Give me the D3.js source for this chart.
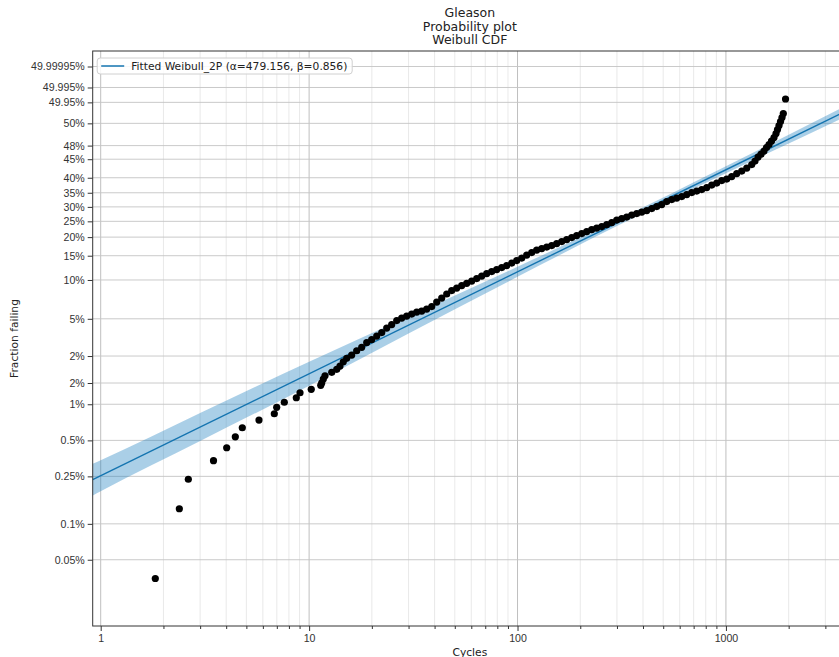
<!DOCTYPE html>
<html>
<head>
<meta charset="utf-8">
<script src="https://cdn.jsdelivr.net/npm/d3@7"></script>
<style>
  body { margin: 0; background: #fff; }
  svg { font-family: "DejaVu Sans", sans-serif; }
  .axis text { fill: #333; font-size: 10.6px; }
  .axis line { stroke: #333; }
  .title { font-size: 12.5px; fill: #222; text-anchor: middle; }
  .label { font-size: 10.7px; fill: #222; text-anchor: middle; }
</style>
</head>
<body>
<script>

// failure data (cycles, fraction failing)
var cycles = [1.828, 2.384, 2.633, 3.477, 4.023, 4.425, 4.780, 5.748, 6.808, 6.991,
    7.603, 8.680, 9.044, 10.24, 11.37, 11.50, 11.70, 11.92, 12.84, 13.57,
    14.07, 14.59, 15.15, 16.01, 16.92, 17.88, 18.90, 19.97, 21.11, 22.31,
    23.57, 24.91, 26.33, 27.82, 29.40, 31.07, 32.84, 34.70, 36.67, 38.76,
    40.96, 43.28, 45.74, 48.34, 51.09, 53.99, 57.05, 60.29, 63.72, 67.34,
    71.16, 75.20, 79.47, 83.99, 88.76, 93.80, 99.13, 104.8, 110.7, 117.0,
    123.6, 130.7, 138.1, 145.9, 154.2, 163.0, 172.2, 182.0, 192.3, 203.3,
    214.8, 227.0, 239.9, 253.6, 268.0, 283.2, 299.3, 316.3, 334.2, 353.2,
    373.3, 394.5, 416.9, 440.6, 465.6, 492.0, 520.0, 549.5, 580.7, 613.7,
    648.6, 685.4, 724.3, 765.5, 809.0, 854.9, 903.5, 954.8, 1009, 1066,
    1127, 1191, 1259, 1330, 1379, 1426, 1474, 1523, 1566, 1610,
    1655, 1701, 1739, 1768, 1798, 1828, 1858, 1885, 1932];

var fractionFailing = [0.000696, 0.002677, 0.00473, 0.00676, 0.00868, 0.0107, 0.01275, 0.01478, 0.01668, 0.01885,
    0.02079, 0.02265, 0.02492, 0.02659, 0.0287, 0.03016, 0.03236, 0.03445, 0.03674, 0.03889,
    0.0414, 0.0449, 0.0479, 0.05096, 0.05525, 0.05889, 0.06442, 0.06814, 0.07272, 0.07761,
    0.08436, 0.09001, 0.09686, 0.1014, 0.1052, 0.1091, 0.1131, 0.1152, 0.1195, 0.1250,
    0.1355, 0.1456, 0.1564, 0.1663, 0.1738, 0.1816, 0.1887, 0.1963, 0.2050, 0.2140,
    0.2233, 0.2310, 0.2389, 0.2470, 0.2554, 0.2662, 0.2773, 0.2889, 0.3032, 0.3156,
    0.3283, 0.3361, 0.3441, 0.3521, 0.3631, 0.3744, 0.3858, 0.3975, 0.4094, 0.4215,
    0.4339, 0.4465, 0.4560, 0.4656, 0.4787, 0.4918, 0.5087, 0.5188, 0.5290, 0.5428,
    0.5532, 0.5637, 0.5742, 0.5883, 0.6025, 0.6166, 0.6380, 0.6522, 0.6628, 0.6734,
    0.6875, 0.7016, 0.7120, 0.7223, 0.7360, 0.7528, 0.7661, 0.7823, 0.7919, 0.8074,
    0.8255, 0.8399, 0.8565, 0.8747, 0.8917, 0.9094, 0.9215, 0.9326, 0.9442, 0.9530,
    0.9620, 0.9698, 0.9772, 0.9832, 0.9879, 0.9915, 0.9942, 0.9962, 0.99937];

// fitted Weibull_2P
var alpha = 479.156;
var beta = 0.856;

// confidence band half width (in ln(-ln(1-F)) units)
var bandCycles = [0.9, 1, 3, 10, 30, 100, 300, 1000, 4000];
var bandHalfWidth = [0.309, 0.300, 0.271, 0.232, 0.164, 0.097, 0.058, 0.068, 0.106];

// axis ticks
var xTickValues = [1, 10, 100, 1000];
var xMinorValues = [2, 3, 4, 5, 6, 7, 8, 9, 20, 30, 40, 50, 60, 70, 80, 90,
    200, 300, 400, 500, 600, 700, 800, 900, 2000, 3000];
var yTickValues = [0.001, 0.002, 0.005, 0.01, 0.02, 0.03, 0.05, 0.1, 0.2, 0.3, 0.4,
    0.5, 0.6, 0.7, 0.8, 0.9, 0.95, 0.99, 0.999, 0.9999, 0.999999];
var yTickLabels = ["0.05%", "0.1%", "0.25%", "0.5%", "1%", "2%", "2%", "5%", "10%", "15%", "20%",
    "25%", "30%", "35%", "40%", "45%", "48%", "50%", "49.95%", "49.995%", "49.99995%"];

var width = 839;
var height = 657;
var margin = {top: 51, bottom: 31, left: 92.7, right: -8};

function weib(f) {
    return Math.log(-Math.log1p(-f));
}
function fitW(t) {
    return beta * (Math.log(t) - Math.log(alpha));
}

var xScale = d3.scaleLog()
    .domain([0.9154, 3810])
    .range([margin.left, width - margin.right]);

var yScale = d3.scaleLinear()
    .domain([weib(0.000278), weib(0.999999992)])
    .range([height - margin.bottom, margin.top]);

var svg = d3.select("body")
    .append("svg")
    .attr("width", width)
    .attr("height", height);

svg.append("defs").append("clipPath")
    .attr("id", "plotclip")
    .append("rect")
    .attr("x", margin.left)
    .attr("y", margin.top)
    .attr("width", width - margin.right - margin.left)
    .attr("height", height - margin.bottom - margin.top);

var plot = svg.append("g").attr("clip-path", "url(#plotclip)");

// grid
plot.selectAll(".minorgrid")
    .data(xMinorValues)
    .enter()
    .append("line")
    .attr("x1", d => xScale(d))
    .attr("x2", d => xScale(d))
    .attr("y1", margin.top)
    .attr("y2", height - margin.bottom)
    .attr("stroke", "#e3e3e3")
    .attr("stroke-width", 0.8);

plot.selectAll(".majorgrid")
    .data(xTickValues)
    .enter()
    .append("line")
    .attr("x1", d => xScale(d))
    .attr("x2", d => xScale(d))
    .attr("y1", margin.top)
    .attr("y2", height - margin.bottom)
    .attr("stroke", "#b8b8b8")
    .attr("stroke-width", 0.9);

plot.selectAll(".hgrid")
    .data(yTickValues)
    .enter()
    .append("line")
    .attr("x1", margin.left)
    .attr("x2", width - margin.right)
    .attr("y1", d => yScale(weib(d)))
    .attr("y2", d => yScale(weib(d)))
    .attr("stroke", "#c4c4c4")
    .attr("stroke-width", 0.9);

// confidence band
var band = d3.area()
    .x(d => xScale(d[0]))
    .y0(d => yScale(fitW(d[0]) - d[1]))
    .y1(d => yScale(fitW(d[0]) + d[1]))
    .curve(d3.curveMonotoneX);

plot.append("path")
    .datum(bandCycles.map((c, i) => [c, bandHalfWidth[i]]))
    .attr("d", band)
    .attr("fill", "#1f82c0")
    .attr("fill-opacity", 0.38);

// fitted line
plot.append("line")
    .attr("x1", xScale(xScale.domain()[0]))
    .attr("y1", yScale(fitW(xScale.domain()[0])))
    .attr("x2", xScale(xScale.domain()[1]))
    .attr("y2", yScale(fitW(xScale.domain()[1])))
    .attr("stroke", "#1474b0")
    .attr("stroke-width", 1.4);

// failure points
plot.selectAll("circle")
    .data(cycles)
    .enter()
    .append("circle")
    .attr("cx", d => xScale(d))
    .attr("cy", (d, i) => yScale(weib(fractionFailing[i])))
    .attr("r", 3.6)
    .attr("fill", "#000");

// axes
var xAxis = d3.axisBottom(xScale)
    .tickValues(xTickValues)
    .tickFormat(d3.format("d"))
    .tickSize(5)
    .tickPadding(3);

var xMinor = d3.axisBottom(xScale)
    .tickValues(xMinorValues)
    .tickFormat("")
    .tickSize(3);

var yAxis = d3.axisLeft(yScale)
    .tickValues(yTickValues.map(weib))
    .tickFormat((d, i) => yTickLabels[i])
    .tickSize(5)
    .tickPadding(3);

svg.append("g")
    .attr("class", "axis")
    .attr("transform", "translate(0," + (height - margin.bottom) + ")")
    .call(xMinor)
    .select(".domain").remove();

svg.append("g")
    .attr("class", "axis")
    .attr("transform", "translate(0," + (height - margin.bottom) + ")")
    .call(xAxis)
    .select(".domain").remove();

svg.append("g")
    .attr("class", "axis")
    .attr("transform", "translate(" + margin.left + ",0)")
    .call(yAxis)
    .select(".domain").remove();

// spines
svg.append("rect")
    .attr("x", margin.left)
    .attr("y", margin.top)
    .attr("width", width - margin.right - margin.left)
    .attr("height", height - margin.bottom - margin.top)
    .attr("fill", "none")
    .attr("stroke", "#333")
    .attr("stroke-width", 1);

// legend
var legend = svg.append("g")
    .attr("transform", "translate(" + (margin.left + 4.5) + "," + (margin.top + 7) + ")");

legend.append("rect")
    .attr("width", 255)
    .attr("height", 16)
    .attr("rx", 3)
    .attr("fill", "#fff")
    .attr("fill-opacity", 0.85)
    .attr("stroke", "#d0d0d0");

legend.append("line")
    .attr("x1", 4)
    .attr("x2", 27)
    .attr("y1", 8)
    .attr("y2", 8)
    .attr("stroke", "#1474b0")
    .attr("stroke-width", 1.5);

legend.append("text")
    .attr("x", 34)
    .attr("y", 11.8)
    .attr("class", "label")
    .style("text-anchor", "start")
    .text("Fitted Weibull_2P (\u03b1=479.156, \u03b2=0.856)");

// titles
var cx = (margin.left + width - margin.right) / 2;
["Gleason", "Probability plot", "Weibull CDF"].forEach(function(t, i) {
    svg.append("text")
        .attr("class", "title")
        .attr("x", cx)
        .attr("y", 17 + i * 13.7)
        .text(t);
});

svg.append("text")
    .attr("class", "label")
    .attr("x", cx)
    .attr("y", 655.5)
    .text("Cycles");

svg.append("text")
    .attr("class", "label")
    .attr("transform", "translate(18," + ((margin.top + height - margin.bottom) / 2) + ") rotate(-90)")
    .text("Fraction failing");

</script>
</body>
</html>
